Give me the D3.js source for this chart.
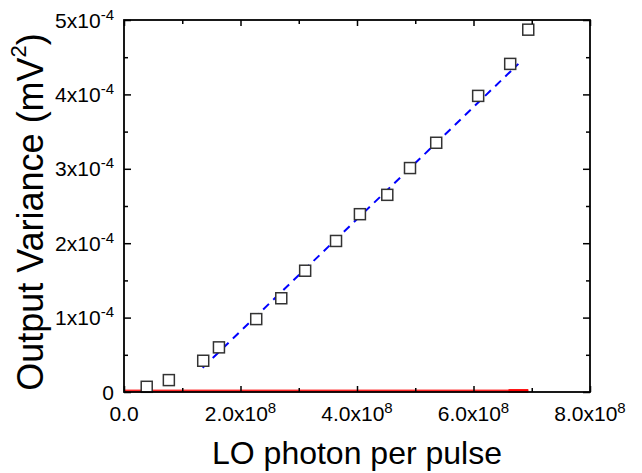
<!DOCTYPE html>
<html><head><meta charset="utf-8">
<script src="https://cdn.jsdelivr.net/npm/d3@7"></script>
<style>body{margin:0;background:#fff;} svg{display:block;font-family:Arial,"Liberation Sans",sans-serif;}</style>
</head><body>
<svg id="c" width="642" height="473"></svg>
<script>
// data
const photons  = [0.39e8, 0.77e8, 1.36e8, 1.63e8, 2.27e8, 2.70e8, 3.11e8, 3.64e8, 4.05e8, 4.52e8, 4.91e8, 5.36e8, 6.08e8, 6.63e8, 6.94e8];
const variance = [0.07e-4, 0.16e-4, 0.42e-4, 0.60e-4, 0.98e-4, 1.26e-4, 1.63e-4, 2.03e-4, 2.39e-4, 2.65e-4, 3.01e-4, 3.35e-4, 3.98e-4, 4.41e-4, 4.87e-4];
const fitX = [1.35e8, 6.77e8];
const fitY = [0.327e-4, 4.41e-4];
const noiseX = [0, 6.94e8];
const noiseY = [0.015e-4, 0.015e-4];
const noiseThickX = [6.6e8, 6.94e8];
const xTicks = [0, 2e8, 4e8, 6e8, 8e8];
const xTickLabels = [["0.0", ""], ["2.0x10", "8"], ["4.0x10", "8"], ["6.0x10", "8"], ["8.0x10", "8"]];
const xMinor = [1e8, 3e8, 5e8, 7e8];
const yTicks = [0, 1e-4, 2e-4, 3e-4, 4e-4, 5e-4];
const yTickLabels = [["0", ""], ["1x10", "-4"], ["2x10", "-4"], ["3x10", "-4"], ["4x10", "-4"], ["5x10", "-4"]];
const yMinor = [0.5e-4, 1.5e-4, 2.5e-4, 3.5e-4, 4.5e-4];
const xTitle = "LO photon per pulse";
const yTitle = ["Output Variance (mV", "2", ")"];

(function () {
const L = 124, R = 590, T = 20, B = 392;
const svg = d3.select("#c");
const x = d3.scaleLinear().domain([0, 8e8]).range([L, R]);
const y = d3.scaleLinear().domain([0, 5e-4]).range([B, T]);

// red noise line
const g = svg.append("g");
g.append("line").attr("x1", x(noiseX[0])).attr("x2", x(noiseX[1])).attr("y1", y(noiseY[0])).attr("y2", y(noiseY[1]))
  .attr("stroke", "#ffa0a0").attr("stroke-width", 4);
g.append("line").attr("x1", x(noiseX[0])).attr("x2", x(noiseX[1])).attr("y1", y(noiseY[0])).attr("y2", y(noiseY[1]))
  .attr("stroke", "#ff0000").attr("stroke-width", 1.5);
g.append("line").attr("x1", x(noiseThickX[0])).attr("x2", x(noiseThickX[1])).attr("y1", y(noiseY[0])).attr("y2", y(noiseY[1]))
  .attr("stroke", "#ff0000").attr("stroke-width", 3.5);

// fit line
svg.append("line").attr("x1", x(fitX[0])).attr("x2", x(fitX[1])).attr("y1", y(fitY[0])).attr("y2", y(fitY[1]))
  .attr("stroke", "#0000ff").attr("stroke-width", 2).attr("stroke-dasharray", "8,6");

// points
const s = 11;
svg.append("g").selectAll("rect").data(photons).join("rect")
  .attr("x", (d) => x(d) - s/2).attr("y", (d, i) => y(variance[i]) - s/2)
  .attr("width", s).attr("height", s).attr("fill", "#fff").attr("stroke", "#333").attr("stroke-width", 1.5);

// axes
function styleAxis(sel) { sel.select(".domain").remove(); sel.selectAll("line").attr("stroke", "#000").attr("stroke-width", 1.5); }
const axBottom = svg.append("g").attr("transform", `translate(0,${B})`).call(d3.axisBottom(x).tickValues(xTicks).tickSize(-6).tickFormat(""));
const axBottomMinor = svg.append("g").attr("transform", `translate(0,${B})`).call(d3.axisBottom(x).tickValues(xMinor).tickSize(-4).tickFormat(""));
const axTop = svg.append("g").attr("transform", `translate(0,${T})`).call(d3.axisTop(x).tickValues(xTicks).tickSize(-6).tickFormat(""));
const axTopMinor = svg.append("g").attr("transform", `translate(0,${T})`).call(d3.axisTop(x).tickValues(xMinor).tickSize(-4).tickFormat(""));
const axLeft = svg.append("g").attr("transform", `translate(${L},0)`).call(d3.axisLeft(y).tickValues(yTicks).tickSize(-7).tickFormat(""));
const axLeftMinor = svg.append("g").attr("transform", `translate(${L},0)`).call(d3.axisLeft(y).tickValues(yMinor).tickSize(-4).tickFormat(""));
const axRight = svg.append("g").attr("transform", `translate(${R},0)`).call(d3.axisRight(y).tickValues(yTicks).tickSize(-7).tickFormat(""));
const axRightMinor = svg.append("g").attr("transform", `translate(${R},0)`).call(d3.axisRight(y).tickValues(yMinor).tickSize(-4).tickFormat(""));
[axBottom, axBottomMinor, axTop, axTopMinor, axLeft, axLeftMinor, axRight, axRightMinor].forEach(styleAxis);

// frame
svg.append("rect").attr("x", L).attr("y", T).attr("width", R - L).attr("height", B - T)
  .attr("fill", "none").attr("stroke", "#000").attr("stroke-width", 1.8);

// tick labels
const xl = svg.append("g").attr("font-size", 21).attr("fill", "#000");
xTicks.forEach((v, i) => {
  const t = xl.append("text").attr("x", x(v)).attr("y", B + 29).attr("text-anchor", "middle");
  t.append("tspan").text(xTickLabels[i][0]);
  if (xTickLabels[i][1]) t.append("tspan").attr("font-size", 15).attr("dy", -8).text(xTickLabels[i][1]);
});
const yl = svg.append("g").attr("font-size", 21).attr("fill", "#000");
yTicks.forEach((v, i) => {
  const t = yl.append("text").attr("x", L - 10).attr("y", y(v) + 7.5).attr("text-anchor", "end");
  t.append("tspan").text(yTickLabels[i][0]);
  if (yTickLabels[i][1]) t.append("tspan").attr("font-size", 15).attr("dy", -8).text(yTickLabels[i][1]);
});

// titles
svg.append("text").attr("x", 357).attr("y", 464).attr("text-anchor", "middle").attr("font-size", 32).text(xTitle);
const yt = svg.append("text").attr("transform", `translate(43,212) rotate(-90)`).attr("text-anchor", "middle").attr("font-size", 36);
yt.append("tspan").text(yTitle[0]);
yt.append("tspan").attr("font-size", 22).attr("dy", -17).text(yTitle[1]);
yt.append("tspan").attr("dy", 17).text(yTitle[2]);
})();
</script>
</body></html>
